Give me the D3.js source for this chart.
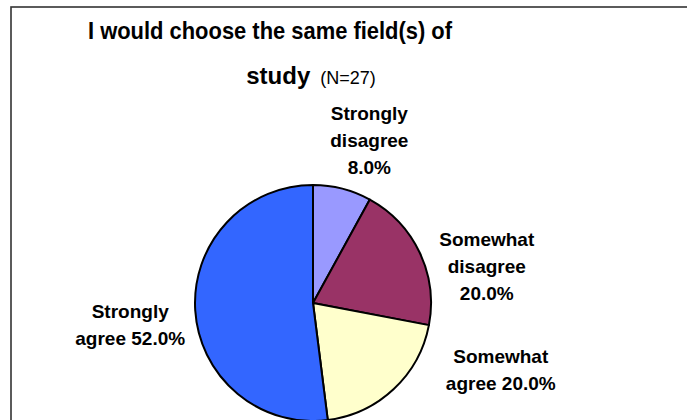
<!DOCTYPE html>
<html>
<head>
<meta charset="utf-8">
<script src="https://cdn.jsdelivr.net/npm/d3@7"></script>
<style>
  html, body { margin: 0; padding: 0; background: #fff; }
  svg { display: block; font-family: Arial, "Liberation Sans", sans-serif; }
</style>
</head>
<body>
<svg id="chart" width="687" height="420"></svg>
<script>
// Survey responses, clockwise from 12 o'clock
const categories = ["Strongly disagree", "Somewhat disagree", "Somewhat agree", "Strongly agree"];
const shares = [8.0, 20.0, 20.0, 52.0];
const sliceColors = ["#9999FF", "#993366", "#FFFFCC", "#3366FF"];
// Label lines as they wrap beside each slice
const labelLines = [
  ["Strongly", "disagree", "8.0%"],
  ["Somewhat", "disagree", "20.0%"],
  ["Somewhat", "agree 20.0%"],
  ["Strongly", "agree 52.0%"]
];
const titleLine1 = "I would choose the same field(s) of";
const titleLine2Bold = "study";
const titleLine2Note = "(N=27)";

const svg = d3.select("#chart");

// chart frame (runs past the right and bottom edges)
svg.append("rect")
  .attr("x", 11).attr("y", 7)
  .attr("width", 720).attr("height", 460)
  .attr("fill", "#fff")
  .attr("stroke", "#333").attr("stroke-width", 1.6);

// title: slightly condensed bold face
svg.append("text")
  .attr("x", 270).attr("y", 39)
  .attr("text-anchor", "middle")
  .attr("font-size", 24).attr("font-weight", "bold")
  .attr("textLength", 364).attr("lengthAdjust", "spacingAndGlyphs")
  .text(titleLine1);
const t2 = svg.append("text")
  .attr("x", 311).attr("y", 84)
  .attr("text-anchor", "middle");
t2.append("tspan").attr("font-size", 24).attr("font-weight", "bold").text(titleLine2Bold);
t2.append("tspan").attr("font-size", 18).attr("dx", 10).text(titleLine2Note);

// pie
const cx = 313, cy = 303, r = 118;
const pie = d3.pie().sort(null).value(d => d)(shares);
const arc = d3.arc().innerRadius(0).outerRadius(r);
const g = svg.append("g").attr("transform", `translate(${cx},${cy})`);
g.selectAll("path")
  .data(pie)
  .join("path")
  .attr("d", arc)
  .attr("fill", (d, i) => sliceColors[i])
  .attr("stroke", "#000")
  .attr("stroke-width", 2)
  .attr("stroke-linejoin", "round");

// labels: anchored at the rim point of each slice's mid-angle, then nudged out
const labelNudge = [[27, -48], [67, 14], [107, -19], [-65, 15]];
const lineGap = 27;
pie.forEach((d, i) => {
  const mid = (d.startAngle + d.endAngle) / 2;
  const lx = cx + Math.sin(mid) * r + labelNudge[i][0];
  const ly = cy - Math.cos(mid) * r + labelNudge[i][1];
  const lines = labelLines[i];
  const firstBase = ly + 6.5 - (lines.length - 1) * lineGap / 2;
  const txt = svg.append("text")
    .attr("text-anchor", "middle")
    .attr("font-size", 19).attr("font-weight", "bold");
  lines.forEach((ln, k) => {
    txt.append("tspan").attr("x", lx).attr("y", firstBase + k * lineGap).text(ln);
  });
});
</script>
</body>
</html>
